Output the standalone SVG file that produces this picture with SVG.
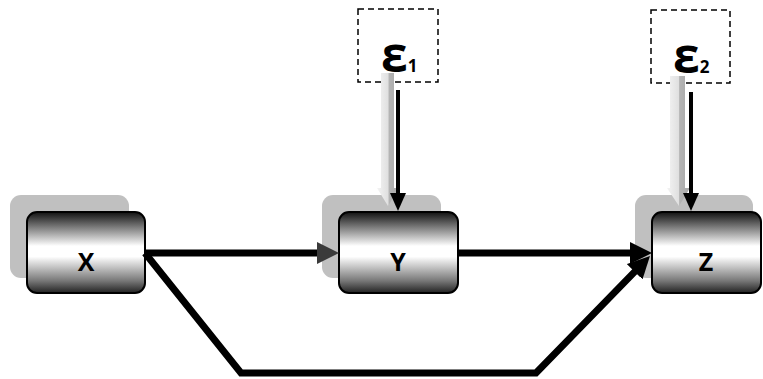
<svg xmlns="http://www.w3.org/2000/svg" width="763" height="379" viewBox="0 0 763 379">
<style>
.shadow{fill:#c0c0c0}
.box{fill:url(#metal);stroke:#000;stroke-width:2}
.lbl{font-family:"Open Sans","Liberation Sans",Arial,sans-serif;font-weight:bold;font-size:25px;text-anchor:middle;fill:#000}
.err{fill:#fff;stroke:#000;stroke-width:1.5;stroke-dasharray:6 4}
.eps{font-family:"Open Sans","Noto Sans",sans-serif;font-weight:bold;font-size:48px;fill:#000}
.sub{font-size:17px}
.main{fill:none;stroke:#000;stroke-width:7;stroke-linejoin:miter}
.thin{fill:none;stroke:#000;stroke-width:4}
.shd{fill:url(#shgrad)}
</style>
<defs>
<linearGradient id="metal" x1="0" y1="0" x2="0" y2="1">
<stop offset="0" stop-color="#111"/>
<stop offset="0.18" stop-color="#777"/>
<stop offset="0.42" stop-color="#fff"/>
<stop offset="0.55" stop-color="#fff"/>
<stop offset="0.85" stop-color="#777"/>
<stop offset="1" stop-color="#222"/>
</linearGradient>
<linearGradient id="shgrad" x1="0" y1="0" x2="1" y2="0">
<stop offset="0" stop-color="#f4f4f4"/>
<stop offset="0.5" stop-color="#e0e0e0"/>
<stop offset="0.55" stop-color="#b4b4b4"/>
<stop offset="1" stop-color="#a8a8a8"/>
</linearGradient>
<marker id="ahBig" markerUnits="userSpaceOnUse" viewBox="0 0 22 22" markerWidth="22" markerHeight="22" refX="10" refY="11" orient="auto">
<path d="M0,0 L22,11 L0,22 Z" fill="#000"/>
</marker>
<marker id="ahGray" markerUnits="userSpaceOnUse" viewBox="0 0 22 22" markerWidth="22" markerHeight="22" refX="10" refY="11" orient="auto">
<path d="M0,0 L22,11 L0,22 Z" fill="#3a3a3a"/>
</marker>
<marker id="ahSmall" markerUnits="userSpaceOnUse" viewBox="0 0 18 16" markerWidth="18" markerHeight="16" refX="8" refY="8" orient="auto">
<path d="M0,0 L18,8 L0,16 Z" fill="#000"/>
</marker>
</defs>
<rect width="763" height="379" fill="#fff"/>

<g id="node-X">
<rect class="shadow" x="10" y="195" width="119" height="83" rx="11"/>
<rect class="box" x="27" y="212" width="118" height="81" rx="10"/>
<text class="lbl" x="86" y="271">X</text>
</g>
<g id="node-Y">
<rect class="shadow" x="322" y="195" width="119" height="83" rx="11"/>
<rect class="box" x="339" y="212" width="119" height="81" rx="10"/>
<text class="lbl" x="398" y="271">Y</text>
</g>
<g id="node-Z">
<rect class="shadow" x="635" y="195" width="118" height="83" rx="11"/>
<rect class="box" x="652" y="212" width="109" height="81" rx="10"/>
<text class="lbl" x="706" y="271">Z</text>
</g>
<g id="node-e1">
<rect class="err" x="358" y="9" width="80" height="73"/>
<text class="eps" x="381" y="72">ε<tspan class="sub">1</tspan></text>
</g>
<g id="node-e2">
<rect class="err" x="651" y="10" width="79" height="73"/>
<text class="eps" x="673" y="73">ε<tspan class="sub">2</tspan></text>
</g>

<g id="connectors">
<path class="shd" d="M381,73 H394 V188 H399 L388,206 L377,188 H381 Z"/>
<path class="shd" d="M670,76 H685 V188 H690 L679,206 L667,188 H670 Z"/>
<line class="thin" x1="398" y1="90" x2="398" y2="201" marker-end="url(#ahSmall)"/>
<line class="thin" x1="691" y1="92" x2="691" y2="201" marker-end="url(#ahSmall)"/>
<line class="main" x1="145" y1="253" x2="327" y2="253" marker-end="url(#ahGray)"/>
<line class="main" x1="458" y1="253" x2="640" y2="253" marker-end="url(#ahBig)"/>
<path class="main" d="M145,253 L241,373 H536 L641.6,264.6" marker-end="url(#ahBig)"/>
</g>
</svg>
